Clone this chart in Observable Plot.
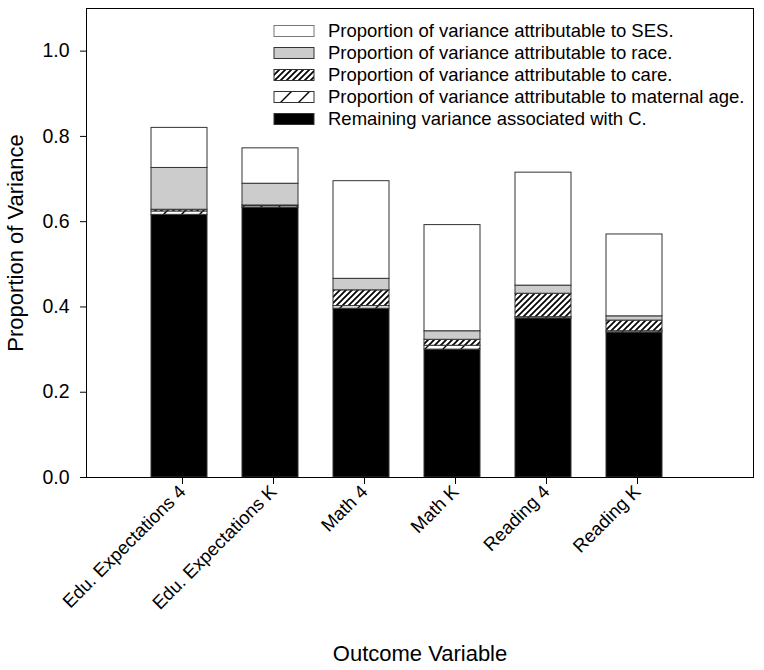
<!DOCTYPE html>
<html><head><meta charset="utf-8">
<script src="https://cdn.jsdelivr.net/npm/d3@7"></script>
<script src="https://cdn.jsdelivr.net/npm/@observablehq/plot@0.6"></script>
<style>
body{margin:0;background:#fff;}
#wrap{position:relative;width:764px;height:670px;font-family:"Liberation Sans",Arial,sans-serif;}
#wrap svg.plot text{font-family:"Liberation Sans",Arial,sans-serif;}
#legend{position:absolute;left:268px;top:18px;}
</style></head><body>
<svg width="0" height="0" style="position:absolute">
<defs>
<pattern id="care" patternUnits="userSpaceOnUse" width="6" height="6">
<rect width="6" height="6" fill="white"/>
<path d="M-1,1 l2,-2 M0,6 l6,-6 M5,7 l2,-2" stroke="black" stroke-width="1.7"/>
</pattern>
<pattern id="mat" patternUnits="userSpaceOnUse" width="18" height="18">
<rect width="18" height="18" fill="white"/>
<path d="M-1,1 l2,-2 M0,18 l18,-18 M17,19 l2,-2" stroke="black" stroke-width="1.4"/>
</pattern>
</defs></svg>
<div id="wrap"></div>
<script>
const categories = ["Edu. Expectations 4","Edu. Expectations K","Math 4","Math K","Reading 4","Reading K"];
const components = ["C","maternal age","care","race","SES"]; // bottom to top
const legendOrder = ["SES","race","care","maternal age","C"];
const legendLabels = [
  "Proportion of variance attributable to SES.",
  "Proportion of variance attributable to race.",
  "Proportion of variance attributable to care.",
  "Proportion of variance attributable to maternal age.",
  "Remaining variance associated with C."
];
const remainingC  = [0.616,0.632,0.396,0.300,0.373,0.340];
const maternalAge = [0.008,0.004,0.006,0.009,0.003,0.003];
const careVals    = [0.004,0.002,0.037,0.014,0.055,0.025];
const raceVals    = [0.098,0.051,0.027,0.020,0.019,0.010];
const sesVals     = [0.094,0.083,0.229,0.249,0.265,0.192];
const yTicks = [0,0.2,0.4,0.6,0.8,1.0];

const seriesByComp = {"C":remainingC,"maternal age":maternalAge,"care":careVals,"race":raceVals,"SES":sesVals};
const fills = {"C":"black","maternal age":"url(#mat)","care":"url(#care)","race":"#cccccc","SES":"white"};

const data = [];
categories.forEach((c,i)=>{
  components.forEach(k=>data.push({cat:c, comp:k, value:seriesByComp[k][i]}));
});

const plot = Plot.plot({
  width:764, height:670,
  marginLeft:86, marginTop:8, marginRight:11, marginBottom:193,
  style:{fontFamily:"Liberation Sans, Arial, sans-serif", fontSize:"18px", color:"black", background:"white"},
  x:{domain:categories, range:[131.75,680.75], paddingInner:0.39, paddingOuter:0.195},
  y:{domain:[0,1.1]},
  color:{domain:components, range:components.map(k=>fills[k])},
  marks:[
    Plot.barY(data,{x:"cat", y:"value", fill:"comp", order:components, stroke:"#333", strokeWidth:1}),
    Plot.frame({stroke:"black", strokeWidth:1}),
    Plot.axisY({ticks:yTicks, tickFormat:".1f", tickSize:6, tickPadding:11, fontSize:19.5,
      label:"Proportion of Variance", labelArrow:"none", labelAnchor:"center", labelOffset:79}),
    Plot.axisX({tickSize:7, tickRotate:-45, fontSize:18.5, tickPadding:4, dx:3,
      label:"Outcome Variable", labelArrow:"none", labelAnchor:"center", labelOffset:183})
  ]
});
plot.classList.add("plot");
plot.querySelectorAll('[aria-label="y-axis label"], [aria-label="x-axis label"]').forEach(g=>{
  g.setAttribute("font-size","22");
  g.querySelectorAll("text").forEach(t=>{
    t.setAttribute("font-size","22");
    t.textContent = t.textContent.replace(/\s*[↑↓←→]\s*/g,"");
  });
});
document.getElementById("wrap").appendChild(plot);

// legend (inside frame, top right)
const leg = d3.select("#wrap").append("svg").attr("id","legend").attr("width",490).attr("height",115);
const rows = leg.selectAll("g").data(legendOrder).join("g").attr("transform",(d,i)=>`translate(0,${13+i*22})`);
rows.append("rect").attr("x",6).attr("y",-5.5).attr("width",40).attr("height",11)
  .attr("fill",d=>fills[d]).attr("stroke",d=>d==="SES"?"#777":"#333").attr("stroke-width",1);
rows.append("text").attr("x",60).attr("y",0).attr("dy","0.35em").attr("font-size",18.5)
  .attr("font-family","Liberation Sans, Arial, sans-serif").text((d,i)=>legendLabels[i]);
</script>
</body></html>
